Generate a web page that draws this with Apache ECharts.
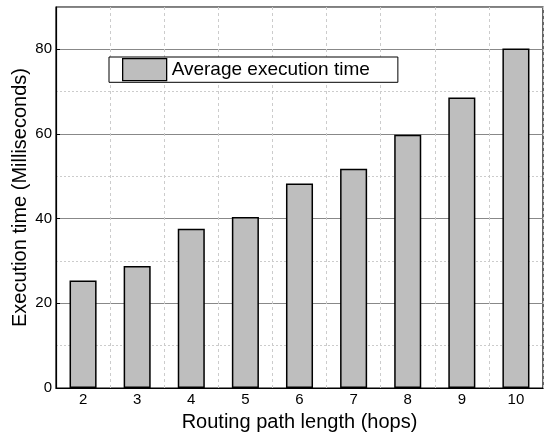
<!DOCTYPE html>
<html>
<head>
<meta charset="utf-8">
<script src="https://cdn.jsdelivr.net/npm/echarts@6/dist/echarts.min.js"></script>
<style>html,body{margin:0;padding:0;background:#fff}#c{width:546px;height:437px}</style>
</head>
<body>
<div id="c"></div>
<script>
const categories = ['2', '3', '4', '5', '6', '7', '8', '9', '10'];
const avgExecTime = [25.4, 28.8, 37.6, 40.4, 48.3, 51.8, 59.8, 68.6, 80.2];
const seriesName = 'Average execution time';
const xName = 'Routing path length (hops)';
const yName = 'Execution time (Milliseconds)';

const FONT = '"Liberation Sans", Arial, sans-serif';
const chart = echarts.init(document.getElementById('c'), null, {renderer: 'canvas'});
chart.setOption({
  animation: false,
  backgroundColor: '#fff',
  textStyle: {fontFamily: FONT},
  grid: {left: 56, right: 3, top: 7, bottom: 49, show: true, borderColor: '#000', borderWidth: 1.2,
    backgroundColor: 'transparent', containLabel: false, outerBoundsMode: 'none'},
  legend: {
    left: 109, top: 57,
    padding: [1, 28, 1, 13],
    borderColor: '#000', borderWidth: 1,
    backgroundColor: '#fff',
    itemWidth: 44, itemHeight: 22,
    icon: 'rect',
    itemStyle: {borderWidth: 1.3},
    textStyle: {fontFamily: FONT, fontSize: 19, color: '#000'},
    data: [seriesName]
  },
  xAxis: [{
    type: 'category', data: categories,
    axisLine: {show: true, lineStyle: {color: '#000', width: 1.2}},
    axisTick: {show: false},
    axisLabel: {color: '#000', fontSize: 15, fontFamily: FONT, margin: 4},
    splitLine: {show: true, lineStyle: {color: '#ccc', type: [3, 3], width: 1}},
    name: xName, nameLocation: 'middle', nameGap: 24, nameMoveOverlap: false,
    nameTextStyle: {color: '#000', fontSize: 20, fontFamily: FONT}
  }],
  yAxis: [{
    type: 'value', position: 'right', min: 0, max: 90, interval: 10,
    axisLine: {show: false}, axisTick: {show: false}, axisLabel: {show: false},
    splitLine: {show: true, lineStyle: {color: '#ccc', type: [2, 2], width: 1}}
  }, {
    type: 'value', position: 'left', min: 0, max: 90, interval: 20,
    axisLine: {show: true, lineStyle: {color: '#000', width: 1.2}},
    axisTick: {show: true, inside: true, length: 4, lineStyle: {color: '#000'}},
    axisLabel: {color: '#000', fontSize: 15, fontFamily: FONT, margin: 4, showMaxLabel: false,
      formatter: v => (v % 20 === 0 && v < 90) ? String(v) : ''},
    splitLine: {show: true, lineStyle: {color: '#888', width: 1}},
    name: yName, nameLocation: 'middle', nameGap: 26, nameMoveOverlap: false,
    nameTextStyle: {color: '#000', fontSize: 20, fontFamily: FONT}
  }],
  series: [{
    name: seriesName, type: 'bar', yAxisIndex: 1,
    data: avgExecTime, barWidth: '50%',
    itemStyle: {color: '#bebebe', borderColor: '#000', borderWidth: 1.5}
  }]
});
</script>
</body>
</html>
